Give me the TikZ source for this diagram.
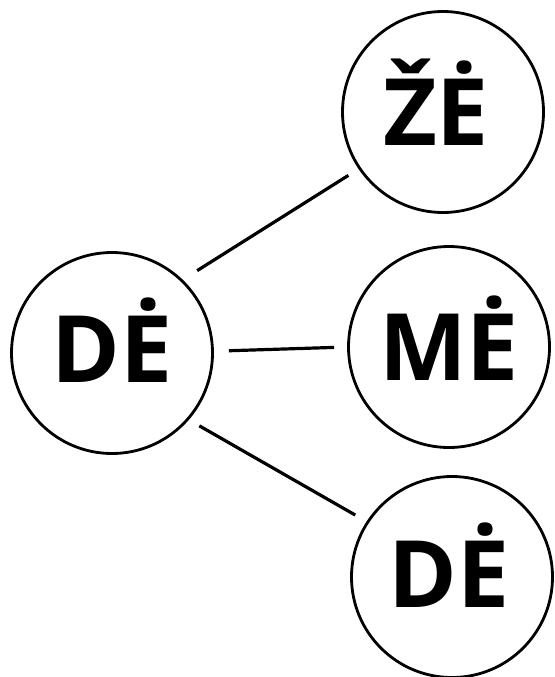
\documentclass[tikz,border=0pt]{standalone}
\usepackage{fontspec}
\setmainfont{Open Sans}
\begin{document}
\begin{tikzpicture}[x=1pt,y=-1pt,
  syl/.style={circle,draw,line width=2.8pt,minimum size=201pt,inner sep=0pt,
    font=\bfseries\fontsize{93}{93}\selectfont,text height=66pt,text depth=0pt},
  link/.style={line width=3.2pt}]
\useasboundingbox (0,0) rectangle (554,677);
\node[syl] (de1) at (112,353) {\raisebox{4pt}{DĖ}};
\node[syl] (ze) at (443,112) {\hspace*{-14pt}ŽĖ};
\node[syl] (me) at (449,347) {MĖ};
\node[syl] (de2) at (452,577) {\hspace*{-6pt}\raisebox{3pt}{DĖ}};
\draw[link,shorten <=17pt,shorten >=12pt] (de1.46) -- (ze.214);
\draw[link,shorten <=15pt,shorten >=13pt] (de1.1) -- (me.180);
\draw[link,shorten <=12pt,shorten >=13pt] (de1.-41) -- (de2.147);
\end{tikzpicture}
\end{document}
